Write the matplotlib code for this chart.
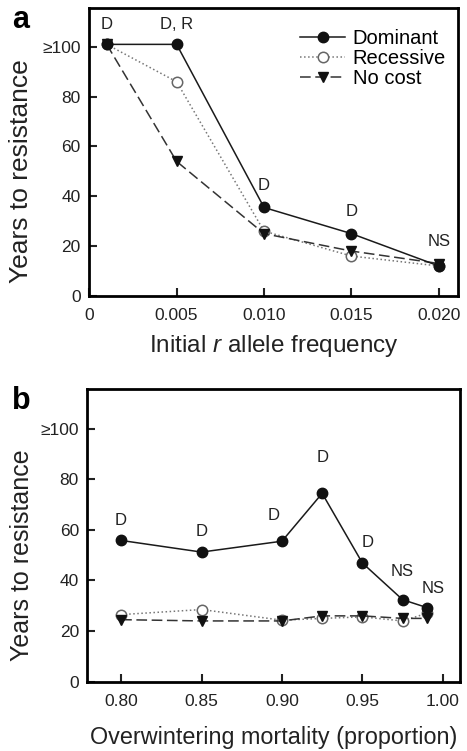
import matplotlib
matplotlib.use('Agg')
import matplotlib.pyplot as plt

plt.rcParams['font.family'] = ['Liberation Sans', 'DejaVu Sans']
plt.rcParams['mathtext.fontset'] = 'custom'
plt.rcParams['mathtext.it'] = 'Liberation Sans:italic'
plt.rcParams['mathtext.rm'] = 'Liberation Sans'

# panel a: initial r allele frequency
freq = [0.001, 0.005, 0.010, 0.015, 0.020]
a_dominant = [101, 101, 35.5, 25, 12]
a_recessive = [101, 86, 26, 16, 12]
a_nocost = [101, 54, 25, 18, 13]
a_labels = ['D', 'D, R', 'D', 'D', 'NS']

# panel b: overwintering mortality
mort = [0.80, 0.85, 0.90, 0.925, 0.95, 0.975, 0.99]
b_dominant = [55.8, 51.2, 55.5, 74.4, 46.9, 32.4, 29.3]
b_recessive = [26.5, 28.5, 24.3, 25, 25.6, 24, 27]
b_nocost = [24.5, 24, 24, 26, 26, 25, 25]
b_labels = ['D', 'D', 'D', 'D', 'D', 'NS', 'NS']

yticks = [0, 20, 40, 60, 80, 100]
yticklabels = ['0', '20', '40', '60', '80', '\u2265100']
YTOP = 115.5


def draw_series(ax, x, dom, rec, noc):
    ax.plot(x, dom, '-', color='#1a1a1a', lw=1.1, marker='o', ms=7.5,
            mfc='#111111', mec='#111111', label='Dominant', zorder=4)
    ax.plot(x, rec, ':', color='#777777', lw=1.1, marker='o', ms=7.5,
            mfc='white', mec='#666666', mew=1.1, label='Recessive', zorder=3)
    ax.plot(x, noc, '--', color='#333333', lw=1.1, dashes=(7, 3), marker='v',
            ms=7.5, mfc='#111111', mec='#111111', label='No cost', zorder=3)


def style_axes(ax, label_size, label_x):
    for s in ax.spines.values():
        s.set_linewidth(2)
    ax.tick_params(direction='in', length=5.5, width=1.5, labelsize=12.5,
                   colors='#222222', pad=6)
    ax.tick_params(axis='x', pad=9)
    ax.set_ylim(0, YTOP)
    ax.set_yticks(yticks)
    ax.set_yticklabels(yticklabels)
    ax.set_ylabel('Years to resistance', fontsize=label_size, color='#222222')
    # label is centred on the 0-100 span, not on the whole axis
    ax.yaxis.set_label_coords(label_x, 50 / YTOP)


fig = plt.figure(figsize=(4.67, 7.51), dpi=100)

# --- panel a
ax1 = fig.add_axes([0.191, 0.606, 0.790, 0.383])
draw_series(ax1, freq, a_dominant, a_recessive, a_nocost)
style_axes(ax1, 19, -0.151)
ax1.set_xlim(0, 0.0211)
ax1.set_xticks([0, 0.005, 0.010, 0.015, 0.020])
ax1.set_xticklabels(['0', '0.005', '0.010', '0.015', '0.020'])
ax1.set_xlabel('Initial $\\it{r}$ allele frequency', fontsize=17.5, color='#222222', labelpad=7)
a_offsets = [8, 8, 9, 9, 9]
tops = [max(v) for v in zip(a_dominant, a_recessive, a_nocost)]
for xv, top, lab, off in zip(freq, tops, a_labels, a_offsets):
    ax1.text(xv, top + off, lab, ha='center', va='center', fontsize=12, color='#222222')
ax1.legend(loc='upper right', frameon=False, fontsize=14.5, handlelength=2.2,
           handletextpad=0.4, labelspacing=0.05, borderaxespad=0.2,
           bbox_to_anchor=(1.0, 0.97))
fig.text(0.045, 0.973, 'a', fontsize=22, fontweight='bold', ha='center', va='center')

# --- panel b
ax2 = fig.add_axes([0.187, 0.0923, 0.798, 0.3893])
draw_series(ax2, mort, b_dominant, b_recessive, b_nocost)
style_axes(ax2, 18, -0.144)
ax2.set_xlim(0.779, 1.0107)
ax2.set_xticks([0.80, 0.85, 0.90, 0.95, 1.00])
ax2.set_xticklabels(['0.80', '0.85', '0.90', '0.95', '1.00'])
ax2.set_xlabel('Overwintering mortality (proportion)', fontsize=16.8, color='#222222', labelpad=12)
b_dx = [0, 0, -0.005, 0, 0.003, 0, 0.004]
b_dy = [8, 8, 10, 14, 8, 11, 7.5]
for xv, yv, lab, dx, dy in zip(mort, b_dominant, b_labels, b_dx, b_dy):
    ax2.text(xv + dx, yv + dy, lab, ha='center', va='center', fontsize=12, color='#222222')
fig.text(0.045, 0.466, 'b', fontsize=22, fontweight='bold', ha='center', va='center')

fig.savefig('out.png', dpi=100)
